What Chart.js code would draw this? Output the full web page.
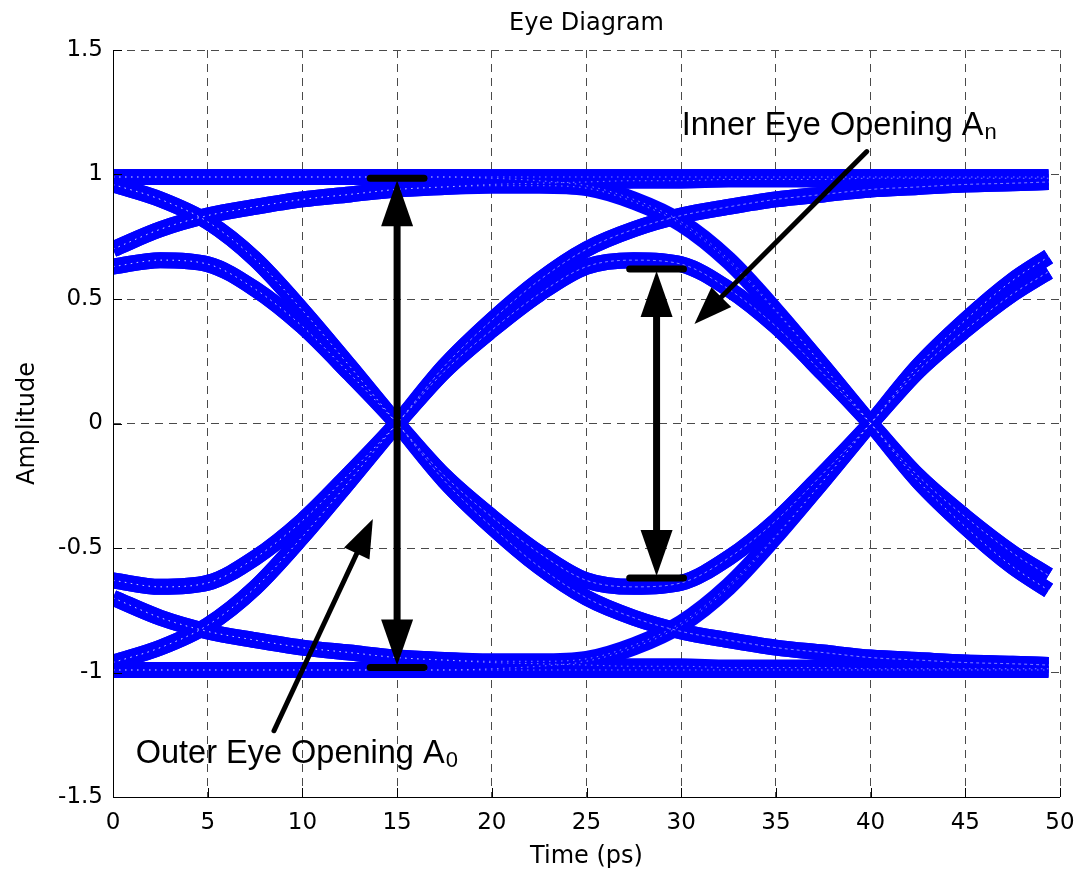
<!DOCTYPE html>
<html>
<head>
<meta charset="utf-8">
<script src="https://cdn.jsdelivr.net/npm/chart.js@4.4.1/dist/chart.umd.min.js"></script>
<style>
html,body{margin:0;padding:0;background:#ffffff;}
canvas{display:block;}
</style>
</head>
<body>
<canvas id="eye" width="1079" height="876" style="width:1079px;height:876px"></canvas>
<script>
// ---- data ----
const timePs = [0, 2.5, 5, 7.5, 10, 12.5, 15, 17.5, 20, 22.5, 25, 27.5, 30, 32.5, 35, 37.5, 40, 42.5, 45, 47.5, 49.4];
const xTickValues = [0, 5, 10, 15, 20, 25, 30, 35, 40, 45, 50];
const yTickValues = [-1.5, -1, -0.5, 0, 0.5, 1, 1.5];

// traces starting in the upper half
const highSteady        = [0.99, 0.99, 0.99, 0.99, 0.99, 0.99, 0.99, 0.99, 0.99, 0.99, 0.99, 0.99, 0.99, 0.99, 0.99, 0.99, 0.99, 0.99, 0.99, 0.99, 0.99];
const highThenFall      = [0.99, 0.99, 0.99, 0.99, 0.99, 0.99, 0.99, 0.99, 0.985, 0.975, 0.955, 0.90, 0.81, 0.66, 0.455, 0.23, 0, -0.23, -0.415, -0.575, -0.67];
const fallValleyRise    = [0.96, 0.90, 0.81, 0.66, 0.455, 0.23, 0, -0.21, -0.375, -0.52, -0.63, -0.656, -0.64, -0.54, -0.39, -0.20, 0, 0.23, 0.415, 0.575, 0.67];
const fallToLow         = [0.96, 0.90, 0.81, 0.66, 0.455, 0.23, 0, -0.23, -0.415, -0.575, -0.70, -0.78, -0.835, -0.87, -0.90, -0.92, -0.94, -0.95, -0.96, -0.965, -0.97];
const settleHigh        = [0.70, 0.78, 0.835, 0.87, 0.90, 0.92, 0.94, 0.95, 0.96, 0.965, 0.97, 0.975, 0.975, 0.98, 0.98, 0.98, 0.985, 0.985, 0.985, 0.985, 0.985];
const settleHighFall    = [0.70, 0.78, 0.835, 0.87, 0.90, 0.92, 0.94, 0.95, 0.955, 0.955, 0.945, 0.89, 0.80, 0.65, 0.45, 0.23, 0, -0.21, -0.375, -0.52, -0.61];
const peakToLow         = [0.63, 0.656, 0.64, 0.54, 0.39, 0.20, 0, -0.23, -0.415, -0.575, -0.70, -0.78, -0.835, -0.87, -0.90, -0.92, -0.94, -0.95, -0.96, -0.965, -0.97];
const peakValleyPeak    = [0.63, 0.656, 0.64, 0.54, 0.39, 0.20, 0, -0.21, -0.375, -0.52, -0.63, -0.656, -0.64, -0.54, -0.39, -0.20, 0, 0.21, 0.375, 0.52, 0.61];

// traces starting in the lower half
const lowSteady         = [-0.99, -0.99, -0.99, -0.99, -0.99, -0.99, -0.99, -0.99, -0.99, -0.99, -0.99, -0.99, -0.99, -0.99, -0.99, -0.99, -0.99, -0.99, -0.99, -0.99, -0.99];
const lowThenRise       = [-0.99, -0.99, -0.99, -0.99, -0.99, -0.99, -0.99, -0.99, -0.985, -0.975, -0.955, -0.90, -0.81, -0.66, -0.455, -0.23, 0, 0.23, 0.415, 0.575, 0.67];
const risePeakFall      = [-0.96, -0.90, -0.81, -0.66, -0.455, -0.23, 0, 0.21, 0.375, 0.52, 0.63, 0.656, 0.64, 0.54, 0.39, 0.20, 0, -0.23, -0.415, -0.575, -0.67];
const riseToHigh        = [-0.96, -0.90, -0.81, -0.66, -0.455, -0.23, 0, 0.23, 0.415, 0.575, 0.70, 0.78, 0.835, 0.87, 0.90, 0.92, 0.94, 0.95, 0.96, 0.965, 0.97];
const settleLow         = [-0.70, -0.78, -0.835, -0.87, -0.90, -0.92, -0.94, -0.95, -0.96, -0.965, -0.97, -0.975, -0.975, -0.98, -0.98, -0.98, -0.985, -0.985, -0.985, -0.985, -0.985];
const settleLowRise     = [-0.70, -0.78, -0.835, -0.87, -0.90, -0.92, -0.94, -0.95, -0.955, -0.955, -0.945, -0.89, -0.80, -0.65, -0.45, -0.23, 0, 0.21, 0.375, 0.52, 0.61];
const valleyToHigh      = [-0.63, -0.656, -0.64, -0.54, -0.39, -0.20, 0, 0.23, 0.415, 0.575, 0.70, 0.78, 0.835, 0.87, 0.90, 0.92, 0.94, 0.95, 0.96, 0.965, 0.97];
const valleyPeakValley  = [-0.63, -0.656, -0.64, -0.54, -0.39, -0.20, 0, 0.21, 0.375, 0.52, 0.63, 0.656, 0.64, 0.54, 0.39, 0.20, 0, -0.21, -0.375, -0.52, -0.61];

const traces = [highSteady, highThenFall, fallValleyRise, fallToLow, settleHigh, settleHighFall, peakToLow, peakValleyPeak,
                lowSteady, lowThenRise, risePeakFall, riseToHigh, settleLow, settleLowRise, valleyToHigh, valleyPeakValley];

// annotation anchors (data coordinates)
const outerOpening = { t: 15.0, top: 0.985, bottom: -0.98 };
const innerOpening = { t: 28.7, top: 0.62, bottom: -0.62 };
const innerPointer = { fromT: 39.8, fromV: 1.092, toT: 30.7, toV: 0.40 };
const outerPointer = { fromT: 8.5, fromV: -1.234, toT: 13.72, toV: -0.384 };
const innerLabel = { t: 30.03, v: 1.1586, text: 'Inner Eye Opening A', sub: 'n' };
const outerLabel = { t: 1.2, v: -1.363, text: 'Outer Eye Opening A', sub: '0' };

// ---- chart ----
const TRACE_BLUE = '#0000ff';
const AX_FONT = 'DejaVu Sans';

const datasets = [];
traces.forEach(tr => {
  datasets.push({
    data: timePs.map((t, i) => ({ x: t, y: tr[i] })),
    borderColor: TRACE_BLUE,
    borderWidth: 16,
    borderJoinStyle: 'round',
    pointRadius: 0,
    fill: false,
    order: 2,
    cubicInterpolationMode: 'monotone'
  });
});
// faint white speckle along each bundle (texture of the overlapping traces)
traces.forEach(tr => {
  datasets.push({
    data: timePs.map((t, i) => ({ x: t, y: tr[i] })),
    borderColor: 'rgba(255,255,255,0.5)',
    borderWidth: 1,
    borderDash: [1.5, 4.5],
    pointRadius: 0,
    fill: false,
    order: 1,
    cubicInterpolationMode: 'monotone'
  });
});

function line(ctx, x1, y1, x2, y2) {
  ctx.beginPath(); ctx.moveTo(x1, y1); ctx.lineTo(x2, y2); ctx.stroke();
}
function arrowHead(ctx, tipX, tipY, fromX, fromY, len, halfW) {
  const ang = Math.atan2(tipY - fromY, tipX - fromX);
  const bx = tipX - len * Math.cos(ang), by = tipY - len * Math.sin(ang);
  const nx = -Math.sin(ang), ny = Math.cos(ang);
  ctx.beginPath();
  ctx.moveTo(tipX, tipY);
  ctx.lineTo(bx + nx * halfW, by + ny * halfW);
  ctx.lineTo(bx - nx * halfW, by - ny * halfW);
  ctx.closePath();
  ctx.fill();
}

const overlay = {
  id: 'overlay',
  afterDatasetsDraw(chart) {
    const { ctx, chartArea: a, scales: { x, y } } = chart;
    ctx.save();
    ctx.setLineDash([]);
    // axes (bottom + left), ticks inside
    ctx.strokeStyle = '#000';
    ctx.lineWidth = 1;
    ctx.beginPath();
    ctx.moveTo(Math.round(a.left) + 0.5, a.top);
    ctx.lineTo(Math.round(a.left) + 0.5, Math.round(a.bottom) + 0.5);
    ctx.lineTo(a.right, Math.round(a.bottom) + 0.5);
    ctx.stroke();
    xTickValues.forEach(t => {
      const px = Math.round(x.getPixelForValue(t)) + 0.5;
      line(ctx, px, a.bottom, px, a.bottom - 9);
    });
    yTickValues.forEach(v => {
      const py = Math.round(y.getPixelForValue(v)) + 0.5;
      line(ctx, a.left, py, a.left + 9, py);
    });

    // opening arrows
    ctx.strokeStyle = '#000';
    ctx.fillStyle = '#000';
    [outerOpening, innerOpening].forEach(o => {
      const px = x.getPixelForValue(o.t);
      const yt = y.getPixelForValue(o.top), yb = y.getPixelForValue(o.bottom);
      const x1 = x.getPixelForValue(o.t - 1.42), x2 = x.getPixelForValue(o.t + 1.42);
      ctx.lineWidth = 7;
      ctx.lineCap = 'round';
      line(ctx, x1, yt, x2, yt);
      line(ctx, x1, yb, x2, yb);
      ctx.lineCap = 'butt';
      line(ctx, px, yt + 40, px, yb - 40);
      arrowHead(ctx, px, yt + 2, px, yb, 46, 16);
      arrowHead(ctx, px, yb - 2, px, yt, 46, 16);
    });

    // pointer arrows
    [innerPointer, outerPointer].forEach(p => {
      const fx = x.getPixelForValue(p.fromT), fy = y.getPixelForValue(p.fromV);
      const tx = x.getPixelForValue(p.toT), ty = y.getPixelForValue(p.toV);
      const ang = Math.atan2(ty - fy, tx - fx);
      ctx.lineWidth = 5;
      ctx.lineCap = 'round';
      line(ctx, fx, fy, tx - 30 * Math.cos(ang), ty - 30 * Math.sin(ang));
      arrowHead(ctx, tx, ty, fx, fy, 38, 14);
    });

    // labels
    ctx.fillStyle = '#000';
    ctx.textBaseline = 'alphabetic';
    ctx.textAlign = 'left';
    [innerLabel, outerLabel].forEach(l => {
      const lx = x.getPixelForValue(l.t), ly = y.getPixelForValue(l.v);
      ctx.font = '32.5px "Liberation Sans"';
      ctx.fillText(l.text, lx, ly);
      const w = ctx.measureText(l.text).width;
      ctx.font = '22px "Liberation Sans"';
      ctx.fillText(l.sub, lx + w + 1, ly + 4);
    });
    ctx.restore();
  }
};

new Chart(document.getElementById('eye'), {
  type: 'line',
  data: { datasets },
  plugins: [overlay],
  options: {
    responsive: false,
    animation: false,
    devicePixelRatio: 1,
    events: [],
    layout: { padding: { left: 0, right: 19, top: 0, bottom: 0 } },
    plugins: {
      legend: { display: false },
      tooltip: { enabled: false },
      title: {
        display: true,
        fullSize: false,
        text: 'Eye Diagram',
        color: '#000',
        font: { family: AX_FONT, size: 24, weight: 'normal' },
        padding: { top: 9, bottom: 12.2 }
      }
    },
    scales: {
      x: {
        type: 'linear',
        min: 0, max: 50,
        afterFit(s) { s.height = 79; s.paddingLeft = 0; s.paddingRight = 0; },
        afterBuildTicks(s) { s.ticks = xTickValues.map(v => ({ value: v })); },
        ticks: {
          color: '#000',
          font: { family: AX_FONT, size: 23 },
          padding: 12,
          maxRotation: 0,
          autoSkip: false,
          callback: v => String(v)
        },
        grid: { color: '#4a4a4a', lineWidth: 1, drawTicks: false },
        border: { display: false, dash: [8, 6] },
        title: {
          display: true,
          text: 'Time (ps)',
          color: '#000',
          font: { family: AX_FONT, size: 24 },
          padding: { top: 0, bottom: 5 }
        }
      },
      y: {
        type: 'linear',
        min: -1.5, max: 1.5,
        afterFit(s) { s.width = 113; },
        afterBuildTicks(s) { s.ticks = yTickValues.map(v => ({ value: v })); },
        ticks: {
          color: '#000',
          font: { family: AX_FONT, size: 23 },
          padding: 10,
          callback: v => String(Number(v.toFixed(2)))
        },
        grid: { color: '#4a4a4a', lineWidth: 1, drawTicks: false },
        border: { display: false, dash: [8, 6] },
        title: {
          display: true,
          text: 'Amplitude',
          color: '#000',
          font: { family: AX_FONT, size: 24 },
          padding: { top: 13, bottom: 0 }
        }
      }
    }
  }
});
</script>
</body>
</html>
